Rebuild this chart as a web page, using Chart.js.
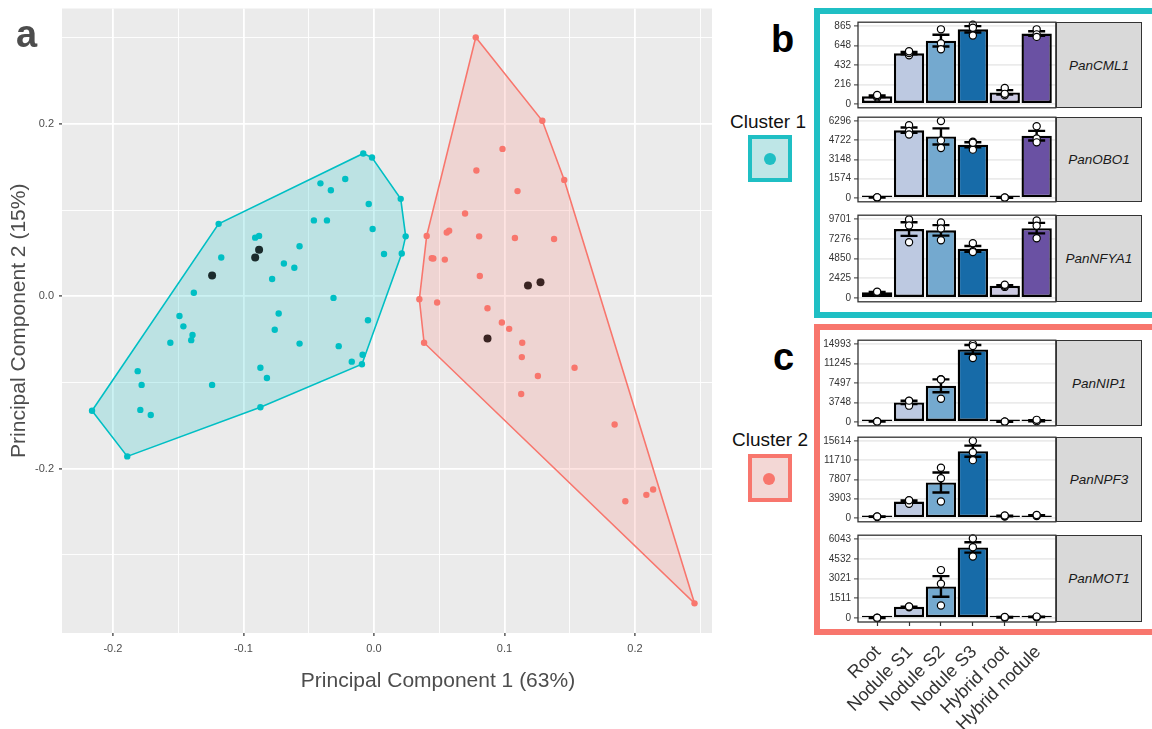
<!DOCTYPE html>
<html>
<head>
<meta charset="utf-8">
<script src="https://cdn.jsdelivr.net/npm/chart.js"></script>
<style>
  body { margin: 0; width: 1152px; height: 729px; position: relative; overflow: hidden; background: #fff;
         font-family: "Liberation Sans", Arial, sans-serif; }
  .tag { position: absolute; font-weight: bold; font-size: 38px; line-height: 38px; }
  .clabel { position: absolute; width: 100px; text-align: center; font-size: 19px; line-height: 19px; color: #111; }
  .key { position: absolute; box-sizing: border-box; border: 4.5px solid; }
  .dot { position: absolute; width: 12px; height: 12px; border-radius: 50%; }
  .frame { position: absolute; box-sizing: border-box; border: 6px solid; pointer-events: none; }
  .strip { position: absolute; box-sizing: border-box; background: #d9d9d9; border: 1.3px solid #333;
           display: flex; align-items: center; justify-content: center;
           font-style: italic; font-size: 13.5px; color: #1a1a1a; }
  .xlab { position: absolute; white-space: nowrap; font-size: 18px; line-height: 18px; color: #333;
          transform-origin: 100% 0; transform: rotate(-45deg); }
  .xtitle { position: absolute; left: 238px; top: 669px; width: 400px; text-align: center;
            font-size: 21px; line-height: 21px; color: #4d4d4d; }
  canvas { position: absolute; }
</style>
</head>
<body>
<canvas id="pca" width="716" height="729" style="left:0;top:0"></canvas>
<div class="xtitle">Principal Component 1 (63%)</div>

<div class="tag" style="left:16px;top:15px;color:#4d4d4d">a</div>
<div class="tag" style="left:771px;top:20px;color:#000">b</div>
<div class="tag" style="left:773px;top:338px;color:#000">c</div>

<div class="clabel" style="left:718px;top:112px">Cluster 1</div>
<div class="key" style="left:748px;top:135px;width:44px;height:47px;border-color:#1fbfc4;background:#bee6e7"></div>
<div class="dot" style="left:764px;top:153px;background:#1fbfc4"></div>
<div class="clabel" style="left:720px;top:430px">Cluster 2</div>
<div class="key" style="left:748px;top:454px;width:44px;height:48px;border-color:#f8766d;background:#f3d7d5"></div>
<div class="dot" style="left:763px;top:473px;background:#f8766d"></div>

<div class="frame" style="left:814px;top:8px;width:400px;height:310px;border-color:#1fbfc4"></div>
<div class="frame" style="left:814px;top:324px;width:400px;height:311px;border-color:#f8766d"></div>

<script>
// ---------- PCA scores (PC1, PC2) ----------
const cluster1 = [
  [-0.0082, 0.1657], [-0.0015, 0.161], [-0.041, 0.131], [-0.033, 0.123], [-0.022, 0.136],
  [-0.004, 0.107], [-0.046, 0.088], [-0.036, 0.088], [-0.001, 0.078], [0.0077, 0.049],
  [-0.119, 0.084], [-0.091, 0.068], [-0.088, 0.070], [-0.117, 0.045], [-0.057, 0.058],
  [-0.069, 0.038], [-0.061, 0.033], [-0.078, 0.020], [-0.138, 0.004], [-0.031, -0.002],
  [-0.149, -0.023], [-0.073, -0.020], [-0.0046, -0.028], [-0.146, -0.035], [-0.139, -0.045],
  [-0.140, -0.051], [-0.156, -0.054], [-0.076, -0.039], [-0.057, -0.055], [-0.027, -0.058],
  [-0.0087, -0.068], [-0.017, -0.076], [-0.0092, -0.079], [-0.181, -0.087], [-0.087, -0.083],
  [-0.082, -0.095], [-0.178, -0.103], [-0.124, -0.103], [-0.216, -0.133], [-0.179, -0.132],
  [-0.171, -0.138], [-0.087, -0.129], [-0.189, -0.186], [0.0205, 0.113], [0.0243, 0.0695],
  [0.0213, 0.0495]
];
const cluster1Marked = [[-0.088, 0.054], [-0.091, 0.045], [-0.124, 0.024]];

const cluster2 = [
  [0.078, 0.3005], [0.129, 0.2036], [0.1458, 0.135], [0.0985, 0.171], [0.0785, 0.146],
  [0.110, 0.122], [0.0698, 0.096], [0.0404, 0.070], [0.0558, 0.074], [0.0576, 0.076],
  [0.0806, 0.0695], [0.108, 0.0676], [0.138, 0.0664], [0.0443, 0.044], [0.0455, 0.0437],
  [0.0543, 0.0425], [0.0811, 0.0235], [0.0348, -0.0035], [0.0484, -0.0073], [0.087, -0.014],
  [0.098, -0.0305], [0.1036, -0.0379], [0.0384, -0.054], [0.1136, -0.054], [0.1133, -0.0707],
  [0.1537, -0.083], [0.1256, -0.0927], [0.1128, -0.1136], [0.1844, -0.149], [0.1926, -0.238],
  [0.2087, -0.2306], [0.2139, -0.2244], [0.2456, -0.3566]
];
const cluster2Marked = [[0.118, 0.0124], [0.1276, 0.0162], [0.087, -0.049]];

const pcaXTicks = [-0.25, -0.2, -0.15, -0.1, -0.05, 0, 0.05, 0.1, 0.15, 0.2, 0.25];
const pcaXLabels = [-0.2, -0.1, 0, 0.1, 0.2];
const pcaYTicks = [-0.3, -0.2, -0.1, 0, 0.1, 0.2, 0.3];
const pcaYLabels = [-0.2, 0, 0.2];

// ---------- expression replicates (3 per tissue) ----------
const tissues = ['Root', 'Nodule S1', 'Nodule S2', 'Nodule S3', 'Hybrid root', 'Hybrid nodule'];

const panCML1 = [[70, 85, 100], [540, 565, 585], [829, 674, 607], [880, 760, 847], [177, 95, 112], [829, 773, 745]];
const panOBO1 = [[20, 35, 50], [5950, 5480, 5200], [6300, 4713, 4091], [4600, 3954, 4520], [10, 25, 40], [5867, 4874, 4552]];
const panNFYA1 = [[640, 700, 760], [9664, 8921, 6852], [9300, 8550, 7100], [6730, 5740, 5640], [1350, 1480, 1620], [9540, 8884, 7347]];
const panNIP1 = [[40, 70, 100], [4050, 3130, 4100], [8230, 4470, 8160], [14993, 12313, 14610], [20, 40, 60], [100, 150, 400]];
const panNPF3 = [[200, 270, 320], [3540, 2870, 3600], [10205, 8071, 3335], [15614, 13340, 11739], [300, 400, 500], [400, 500, 600]];
const panMOT1 = [[5, 10, 20], [830, 860, 890], [3673, 2631, 964], [6096, 5418, 4715], [30, 60, 90], [60, 80, 110]];

const cml1Ticks = [0, 216, 432, 648, 865];
const obo1Ticks = [0, 1574, 3148, 4722, 6296];
const nfya1Ticks = [0, 2425, 4850, 7276, 9701];
const nip1Ticks = [0, 3748, 7497, 11245, 14993];
const npf3Ticks = [0, 3903, 7807, 11710, 15614];
const mot1Ticks = [0, 1511, 3021, 4532, 6043];

// ---------- styling / layout ----------
const tissueColors = ['#f1eef6', '#bdc9e1', '#74a9cf', '#176ba8', '#cbc9e2', '#6a51a3'];
Chart.defaults.font.family = '"Liberation Sans", Arial, sans-serif';
Chart.defaults.animation = false;

function noPad(scale) {
  scale.paddingTop = scale.paddingBottom = scale.paddingLeft = scale.paddingRight = 0;
}
const near = (list, v) => list.some(t => Math.abs(t - v) < 1e-9);

function hull(pts) {
  const p = pts.slice().sort((a, b) => a[0] - b[0] || a[1] - b[1]);
  const cross = (o, a, b) => (a[0] - o[0]) * (b[1] - o[1]) - (a[1] - o[1]) * (b[0] - o[0]);
  const lower = [], upper = [];
  for (const q of p) {
    while (lower.length >= 2 && cross(lower[lower.length - 2], lower[lower.length - 1], q) <= 0) lower.pop();
    lower.push(q);
  }
  for (let i = p.length - 1; i >= 0; i--) {
    const q = p[i];
    while (upper.length >= 2 && cross(upper[upper.length - 2], upper[upper.length - 1], q) <= 0) upper.pop();
    upper.push(q);
  }
  upper.pop(); lower.pop();
  const h = lower.concat(upper);
  h.push(h[0]);
  return h;
}
const xy = pts => pts.map(([x, y]) => ({ x, y }));

const areaBg = color => ({
  id: 'areaBg',
  beforeDraw(chart) {
    const a = chart.chartArea, ctx = chart.ctx;
    ctx.save(); ctx.fillStyle = color; ctx.fillRect(a.left, a.top, a.right - a.left, a.bottom - a.top); ctx.restore();
  }
});

// ---------- panel a: PCA ----------
new Chart(document.getElementById('pca'), {
  type: 'scatter',
  data: {
    datasets: [
      { data: xy(cluster1Marked), pointRadius: 4, backgroundColor: '#1b2b2c', borderWidth: 0, order: 0 },
      { data: xy(cluster2Marked), pointRadius: 4, backgroundColor: '#3a2422', borderWidth: 0, order: 0 },
      { data: xy(cluster1), pointRadius: 3.2, backgroundColor: '#00bfc4', borderWidth: 0, order: 1 },
      { data: xy(cluster2), pointRadius: 3.2, backgroundColor: '#f8766d', borderWidth: 0, order: 1 },
      { type: 'line', data: xy(hull(cluster1.concat(cluster1Marked))), borderColor: '#00bfc4', borderWidth: 1.6,
        backgroundColor: 'rgba(0,191,196,0.2)', fill: 'shape', pointRadius: 0, tension: 0, order: 2 },
      { type: 'line', data: xy(hull(cluster2.concat(cluster2Marked))), borderColor: '#f8766d', borderWidth: 1.6,
        backgroundColor: 'rgba(248,118,109,0.2)', fill: 'shape', pointRadius: 0, tension: 0, order: 2 }
    ]
  },
  options: {
    responsive: false,
    events: [],
    layout: { padding: { top: 8.5, right: 4, left: 0, bottom: 0 } },
    plugins: { legend: { display: false }, tooltip: { enabled: false } },
    scales: {
      x: {
        type: 'linear', min: -0.239, max: 0.259,
        afterBuildTicks: s => { s.ticks = pcaXTicks.map(v => ({ value: v })); },
        afterFit: s => { s.height = 96; noPad(s); },
        border: { display: false },
        grid: {
          color: '#ffffff',
          lineWidth: c => near(pcaXLabels, c.tick.value) ? 1.8 : 0.9,
          tickColor: c => near(pcaXLabels, c.tick.value) ? '#333' : 'rgba(0,0,0,0)',
          tickLength: 3, tickWidth: 1.2
        },
        ticks: {
          autoSkip: false, maxRotation: 0, padding: 6, color: '#4d4d4d', font: { size: 11 },
          callback: v => near(pcaXLabels, v) ? v.toFixed(1) : ''
        }
      },
      y: {
        type: 'linear', min: -0.391, max: 0.334,
        afterBuildTicks: s => { s.ticks = pcaYTicks.map(v => ({ value: v })); },
        afterFit: s => { s.width = 62; noPad(s); },
        border: { display: false },
        grid: {
          color: '#ffffff',
          lineWidth: c => near(pcaYLabels, c.tick.value) ? 1.8 : 0.9,
          tickColor: c => near(pcaYLabels, c.tick.value) ? '#333' : 'rgba(0,0,0,0)',
          tickLength: 3, tickWidth: 1.2
        },
        ticks: {
          autoSkip: false, padding: 5, color: '#4d4d4d', font: { size: 11 },
          callback: v => near(pcaYLabels, v) ? v.toFixed(1) : ''
        },
        title: { display: true, text: 'Principal Component 2 (15%)', color: '#4d4d4d',
                 font: { size: 21 }, padding: { top: 7, bottom: 0 } }
      }
    }
  },
  plugins: [areaBg('#ebebeb')]
});

// ---------- panels b / c: bar charts ----------
const genes = [
  { name: 'PanCML1', reps: panCML1, ticks: cml1Ticks },
  { name: 'PanOBO1', reps: panOBO1, ticks: obo1Ticks },
  { name: 'PanNFYA1', reps: panNFYA1, ticks: nfya1Ticks },
  { name: 'PanNIP1', reps: panNIP1, ticks: nip1Ticks },
  { name: 'PanNPF3', reps: panNPF3, ticks: npf3Ticks },
  { name: 'PanMOT1', reps: panMOT1, ticks: mot1Ticks }
];
// panel box [top, bottom] in page pixels
const boxes = [[22, 108], [117, 202], [215, 302], [340, 426], [437, 522], [535, 622]];
const barLeft = 820, boxRight = 1056, pad = 5;

const mean = a => a.reduce((s, v) => s + v, 0) / a.length;
const se = a => {
  const m = mean(a);
  return Math.sqrt(a.reduce((s, v) => s + (v - m) ** 2, 0) / (a.length - 1)) / Math.sqrt(a.length);
};

genes.forEach((g, k) => {
  const [top, bottom] = boxes[k];
  const last = k === genes.length - 1;
  const cvTop = top - pad;
  const cvH = last ? 729 - cvTop : bottom - top + 2 * pad;
  const cv = document.createElement('canvas');
  cv.width = boxRight - barLeft + pad; cv.height = cvH;
  cv.style.left = barLeft + 'px'; cv.style.top = cvTop + 'px';
  document.body.appendChild(cv);

  const strip = document.createElement('div');
  strip.className = 'strip';
  strip.style.cssText = `left:${boxRight}px;top:${top}px;width:86px;height:${bottom - top}px`;
  strip.textContent = g.name;
  document.body.appendChild(strip);

  const ymax = g.ticks[g.ticks.length - 1];

  const errorBars = {
    id: 'errorBars',
    afterDatasetDraw(chart, args) {
      if (args.index !== 0) return;
      const { ctx, scales: { x, y } } = chart;
      ctx.save();
      ctx.strokeStyle = '#000'; ctx.lineWidth = 2.4;
      g.reps.forEach((r, i) => {
        const m = mean(r), e = se(r);
        const px = x.getPixelForValue(i + 1);
        const hi = y.getPixelForValue(m + e), lo = y.getPixelForValue(m - e);
        ctx.beginPath();
        ctx.moveTo(px, hi); ctx.lineTo(px, lo);
        ctx.moveTo(px - 8.5, hi); ctx.lineTo(px + 8.5, hi);
        ctx.moveTo(px - 8.5, lo); ctx.lineTo(px + 8.5, lo);
        ctx.stroke();
      });
      ctx.restore();
    }
  };
  const border = {
    id: 'border',
    afterDatasetsDraw(chart) {
      const a = chart.chartArea, ctx = chart.ctx;
      ctx.save(); ctx.strokeStyle = '#333'; ctx.lineWidth = 1.3;
      ctx.strokeRect(a.left, a.top, a.right - a.left, a.bottom - a.top); ctx.restore();
    }
  };

  const chart = new Chart(cv, {
    type: 'bar',
    data: {
      datasets: [
        { data: g.reps.map((r, i) => ({ x: i + 1, y: mean(r) })), backgroundColor: tissueColors,
          borderColor: '#000', borderWidth: 2.4, borderSkipped: false, minBarLength: 2.4,
          barPercentage: 0.95, categoryPercentage: 1, order: 2 },
        { type: 'scatter', data: g.reps.flatMap((r, i) => r.map(v => ({ x: i + 1, y: v }))),
          pointRadius: 3.6, backgroundColor: '#fff', borderColor: '#000', borderWidth: 1.2, clip: false, order: 1 }
      ]
    },
    options: {
      responsive: false,
      events: [],
      layout: { padding: { top: pad, bottom: last ? 0 : pad, left: 0, right: pad } },
      plugins: { legend: { display: false }, tooltip: { enabled: false } },
      scales: {
        x: {
          type: 'linear', min: 0.4, max: 6.6, display: last, offset: false,
          afterBuildTicks: s => { s.ticks = tissues.map((t, i) => ({ value: i + 1 })); },
          afterFit: s => { s.height = last ? 729 - bottom : 0; noPad(s); },
          border: { display: false },
          grid: { offset: false, drawOnChartArea: false, tickLength: 4, tickColor: '#333', tickWidth: 1.2 },
          ticks: { display: false }
        },
        y: {
          min: -0.05 * ymax, max: 1.05 * ymax,
          afterBuildTicks: s => { s.ticks = g.ticks.map(v => ({ value: v })); },
          afterFit: s => { s.width = 38; noPad(s); },
          border: { display: false },
          grid: { color: '#ebebeb', lineWidth: 1.8, tickColor: '#333', tickLength: 4, tickWidth: 1 },
          ticks: { autoSkip: false, padding: 3, color: '#333', font: { size: 10 },
                   callback: v => String(v) }
        }
      }
    },
    plugins: [errorBars, border]
  });

  // rotated tissue labels under the last panel, anchored at the chart's own x ticks
  if (last) {
    tissues.forEach((t, i) => {
      const px = barLeft + chart.scales.x.getPixelForValue(i + 1);
      const d = document.createElement('div');
      d.className = 'xlab';
      d.textContent = t;
      d.style.right = (1152 - px + 6) + 'px';
      d.style.top = '642px';
      document.body.appendChild(d);
    });
  }
});
</script>
</body>
</html>
